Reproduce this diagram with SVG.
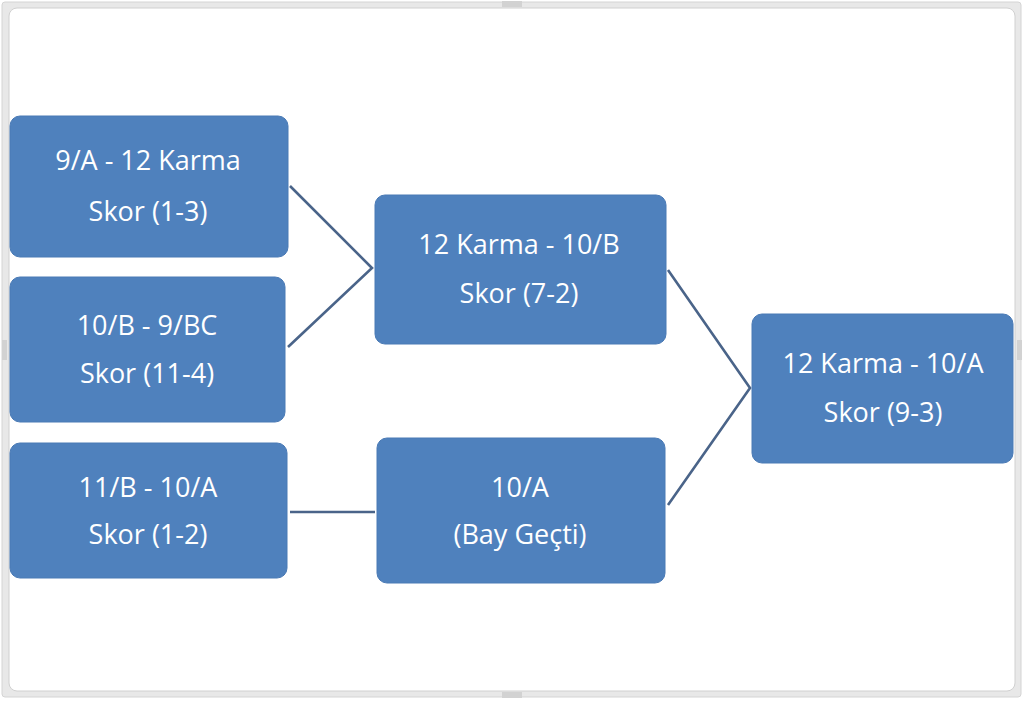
<svg xmlns="http://www.w3.org/2000/svg" width="1024" height="701" viewBox="0 0 1024 701">
<style>
.box{fill:#4f81bd;stroke:#4a7ab5;stroke-width:1}
.t{font-family:"Open Sans","Liberation Sans",sans-serif;font-size:27px;fill:#ffffff;text-anchor:middle}
.c{stroke:#4a6489;stroke-width:2.6;fill:none}
</style>
<rect x="0" y="0" width="1024" height="701" fill="#ffffff"/>
<g id="frame">
<rect x="2" y="2" width="1019" height="695" rx="3" fill="#e8e8e8" stroke="#d4d4d4" stroke-width="1"/>
<rect x="9" y="8" width="1006" height="683" rx="8" fill="#ffffff" stroke="#d0d0d0" stroke-width="1"/>
<rect x="502" y="1" width="20" height="6" fill="#d2d2d2"/>
<rect x="502" y="692" width="20" height="6" fill="#d2d2d2"/>
<rect x="2" y="340" width="5" height="20" fill="#d2d2d2"/>
<rect x="1017" y="340" width="5" height="20" fill="#d2d2d2"/>
</g>
<g id="connectors">
<polyline class="c" points="290,186 372,268 288,347"/>
<line class="c" x1="290" y1="512" x2="375" y2="512"/>
<polyline class="c" points="668,270 750,388 668,505"/>
</g>
<g id="n1">
<rect class="box" x="10" y="116" width="278" height="141" rx="10"/>
<text class="t" x="148" y="170">9/A - 12 Karma</text>
<text class="t" x="148" y="221">Skor (1-3)</text>
</g>
<g id="n2">
<rect class="box" x="10" y="277" width="275" height="145" rx="10"/>
<text class="t" x="147" y="335">10/B - 9/BC</text>
<text class="t" x="147" y="383">Skor (11-4)</text>
</g>
<g id="n3">
<rect class="box" x="10" y="443" width="277" height="135" rx="10"/>
<text class="t" x="148" y="497">11/B - 10/A</text>
<text class="t" x="148" y="544">Skor (1-2)</text>
</g>
<g id="n4">
<rect class="box" x="375" y="195" width="291" height="149" rx="10"/>
<text class="t" x="519" y="254">12 Karma - 10/B</text>
<text class="t" x="519" y="303">Skor (7-2)</text>
</g>
<g id="n5">
<rect class="box" x="377" y="438" width="288" height="145" rx="10"/>
<text class="t" x="520" y="497">10/A</text>
<text class="t" x="520" y="544">(Bay Geçti)</text>
</g>
<g id="n6">
<rect class="box" x="752" y="314" width="261" height="149" rx="10"/>
<text class="t" x="883" y="373">12 Karma - 10/A</text>
<text class="t" x="883" y="422">Skor (9-3)</text>
</g>
</svg>
